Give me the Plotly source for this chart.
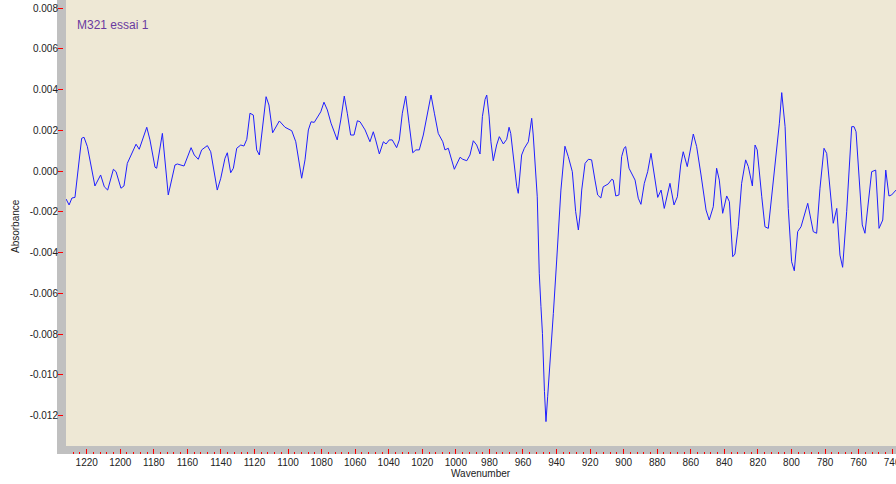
import plotly.graph_objects as go

# ---- data ----
wavenumber = [
    1232.3, 1230.5, 1228.8, 1227.0, 1223.0, 1221.6, 1219.6, 1215.1, 1211.7, 1209.5,
    1207.5, 1204.1, 1202.5, 1199.6, 1197.8, 1195.8, 1190.6, 1188.7, 1184.2, 1182.3,
    1179.3, 1178.3, 1174.9, 1171.4, 1167.4, 1166.0, 1162.0, 1157.8, 1155.9, 1153.5,
    1151.5, 1148.1, 1146.1, 1144.6, 1143.5, 1142.2, 1140.1, 1137.6, 1136.2, 1134.2,
    1132.6, 1130.6, 1128.2, 1126.3, 1124.6, 1122.7, 1120.7, 1118.7, 1117.1, 1113.1,
    1111.4, 1109.2, 1105.2, 1101.8, 1097.8, 1095.4, 1091.9, 1089.9, 1087.9, 1086.3,
    1084.4, 1080.5, 1078.6, 1076.6, 1074.4, 1072.4, 1070.7, 1068.6, 1066.5, 1064.7,
    1062.7, 1060.7, 1058.7, 1057.1, 1054.1, 1051.2, 1049.2, 1047.8, 1045.6, 1043.2,
    1041.6, 1039.7, 1037.9, 1035.3, 1033.7, 1031.9, 1029.9, 1027.9, 1025.7, 1023.8,
    1021.8, 1019.4, 1017.0, 1014.8, 1012.8, 1010.5, 1007.8, 1006.5, 1004.5, 1000.9,
    997.5, 995.9, 993.5, 991.6, 989.6, 987.6, 985.6, 984.2, 982.6, 981.6,
    980.2, 979.1, 977.7, 975.7, 974.1, 971.7, 969.7, 968.3, 967.3, 965.2,
    963.7, 962.8, 960.8, 959.2, 956.8, 954.8, 953.9, 951.5, 950.3, 949.3,
    948.4, 947.2, 946.3, 945.3, 943.3, 941.9, 939.9, 937.4, 935.0, 933.0,
    930.6, 928.6, 927.0, 926.0, 925.0, 923.0, 921.0, 919.1, 917.1, 915.5,
    913.6, 912.2, 909.2, 907.1, 906.2, 904.7, 902.8, 901.2, 899.8, 898.8,
    896.8, 894.9, 893.2, 891.3, 889.7, 887.7, 885.7, 883.7, 881.7, 879.7,
    877.7, 875.8, 872.4, 870.0, 868.0, 866.0, 864.5, 862.1, 858.5, 856.5,
    853.9, 850.9, 849.0, 846.6, 844.6, 843.0, 841.0, 838.6, 837.0, 835.0,
    833.7, 831.7, 829.7, 827.3, 825.7, 823.3, 821.7, 820.4, 817.7, 815.8,
    813.8, 809.8, 807.2, 805.8, 803.8, 801.9, 799.9, 798.3, 796.3, 794.3,
    790.3, 787.0, 785.0, 783.0, 780.6, 779.0, 777.0, 775.1, 773.0, 771.1,
    769.5, 767.1, 764.1, 762.7, 761.5, 757.8, 756.2, 752.2, 749.8, 747.8,
    745.6, 743.8, 741.9, 740.3, 737.7, 736.0,
]
absorbance = [
    -0.00137, -0.00166, -0.00132, -0.00129, 0.00161, 0.00166, 0.00120, -0.00073, -0.00019, -0.00077,
    -0.00093, 0.00009, -0.00003, -0.00084, -0.00073, 0.00038, 0.00132, 0.00107, 0.00215, 0.00153,
    0.00019, 0.00014, 0.00185, -0.00117, 0.00030, 0.00035, 0.00025, 0.00115, 0.00079, 0.00058,
    0.00104, 0.00125, 0.00095, 0.00022, -0.00044, -0.00093, -0.00035, 0.00063, 0.00090, -0.00008,
    0.00014, 0.00112, 0.00128, 0.00123, 0.00156, 0.00284, 0.00275, 0.00104, 0.00079, 0.00365,
    0.00324, 0.00188, 0.00246, 0.00215, 0.00198, 0.00144, -0.00035, 0.00055, 0.00202, 0.00242,
    0.00239, 0.00291, 0.00338, 0.00300, 0.00235, 0.00193, 0.00153, 0.00251, 0.00368, 0.00284,
    0.00177, 0.00177, 0.00247, 0.00242, 0.00202, 0.00144, 0.00193, 0.00153, 0.00084, 0.00144,
    0.00133, 0.00153, 0.00153, 0.00115, 0.00153, 0.00284, 0.00368, 0.00235, 0.00090, 0.00104,
    0.00104, 0.00177, 0.00284, 0.00373, 0.00284, 0.00185, 0.00144, 0.00104, 0.00112, 0.00009,
    0.00068, 0.00058, 0.00051, 0.00079, 0.00149, 0.00128, 0.00084, 0.00267, 0.00352, 0.00373,
    0.00270, 0.00144, 0.00051, 0.00128, 0.00169, 0.00133, 0.00156, 0.00215, 0.00185, 0.00030,
    -0.00077, -0.00109, 0.00079, 0.00112, 0.00144, 0.00259, 0.00177, -0.00126, -0.00501, -0.00665,
    -0.00796, -0.01082, -0.01229, -0.01107, -0.00894, -0.00698, -0.00436, -0.00093, 0.00122, 0.00071,
    -0.00003, -0.00199, -0.00289, -0.00215, -0.00093, 0.00038, 0.00058, 0.00055, -0.00044, -0.00117,
    -0.00132, -0.00077, -0.00063, -0.00040, -0.00044, -0.00122, -0.00117, 0.00071, 0.00112, 0.00120,
    0.00014, -0.00019, -0.00044, -0.00133, -0.00163, -0.00060, -0.00003, 0.00087, -0.00028, -0.00129,
    -0.00093, -0.00183, -0.00060, -0.00166, -0.00126, 0.00030, 0.00095, 0.00022, 0.00182, 0.00120,
    -0.00019, -0.00191, -0.00240, -0.00175, 0.00014, -0.00044, -0.00207, -0.00122, -0.00150, -0.00420,
    -0.00407, -0.00273, -0.00060, 0.00055, 0.00022, -0.00073, 0.00128, 0.00104, -0.00126, -0.00273,
    -0.00281, 0.00038, 0.00235, 0.00385, 0.00218, -0.00183, -0.00445, -0.00489, -0.00297, -0.00273,
    -0.00158, -0.00297, -0.00305, -0.00084, 0.00112, 0.00087, -0.00093, -0.00256, -0.00183, -0.00412,
    -0.00472, -0.00199, 0.00218, 0.00218, 0.00193, -0.00264, -0.00305, -0.00003, 0.00005, -0.00281,
    -0.00240, 0.00005, -0.00122, -0.00117, -0.00093, -0.00080,
]

x_tick_values = list(range(1220, 739, -20))
x_tick_labels = [str(v) for v in x_tick_values]
y_tick_values = [0.008, 0.006, 0.004, 0.002, 0.000, -0.002, -0.004, -0.006, -0.008, -0.010, -0.012]
y_tick_labels = ["0.008", "0.006", "0.004", "0.002", "0.000", "-0.002", "-0.004",
                 "-0.006", "-0.008", "-0.010", "-0.012"]

title_text = "M321 essai 1"
x_title = "Wavenumber"
y_title = "Absorbance"

# ---- layout geometry ----
W, H = 896, 484
ML, MR, MT, MB = 57, 0, 0, 30
PW, PH = W - ML - MR, H - MT - MB   # 839 x 454
BAR = 9   # grey frame width (left)
BARB = 8  # grey frame height (bottom)

FONT = "Liberation Sans, Arial, sans-serif"

fig = go.Figure()
fig.add_trace(go.Scatter(
    x=wavenumber, y=absorbance, mode="lines",
    line=dict(color="#1f1fff", width=1),
    hoverinfo="skip", showlegend=False,
))

fig.update_layout(
    width=W, height=H,
    margin=dict(l=ML, r=MR, t=MT, b=MB, pad=0),
    paper_bgcolor="white",
    plot_bgcolor="#EEE8D5",
    font=dict(family=FONT, size=10, color="#222222"),
    showlegend=False,
    xaxis=dict(
        domain=[BAR / PW, 1],
        range=[1232.34, 737.7],
        anchor="free", position=0,
        showgrid=False, zeroline=False, showline=False,
        tickmode="array", tickvals=x_tick_values, ticktext=x_tick_labels,
        ticks="inside", ticklen=5, tickwidth=1, tickcolor="#ff0000",
        minor=dict(tickmode="linear", tick0=0, dtick=4, ticks="inside",
                   ticklen=2, tickwidth=1, tickcolor="#ff0000"),
        tickfont=dict(family=FONT, size=10, color="#222222"),
        ticklabeloverflow="allow",
        ticklabelstandoff=1,
        automargin=False,
        fixedrange=True,
    ),
    yaxis=dict(
        domain=[BARB / PH, 1],
        range=[-0.013486, 0.008394],
        anchor="free", position=0,
        showgrid=False, zeroline=False, showline=False,
        tickmode="array", tickvals=y_tick_values, ticktext=y_tick_labels,
        ticks="inside", ticklen=5, tickwidth=1, tickcolor="#ff0000",
        tickfont=dict(family=FONT, size=10, color="#222222"),
        ticklabeloverflow="allow",
        ticklabelstandoff=-1,
        automargin=False,
        fixedrange=True,
    ),
    shapes=[
        dict(type="rect", xref="paper", yref="paper", x0=0, x1=BAR / PW, y0=0, y1=1,
             fillcolor="#C0C0C0", line=dict(width=0), layer="below"),
        dict(type="rect", xref="paper", yref="paper", x0=0, x1=1, y0=0, y1=BARB / PH,
             fillcolor="#C0C0C0", line=dict(width=0), layer="below"),
    ],
    annotations=[
        dict(text=title_text, xref="paper", yref="paper",
             x=(75 - ML) / PW, y=(H - MB - 25) / PH, xanchor="left", yanchor="middle",
             showarrow=False, font=dict(family=FONT, size=12, color="#6A3AA0")),
        dict(text=x_title, xref="paper", yref="paper",
             x=(480.5 - ML) / PW, y=(H - MB - 473) / PH, xanchor="center", yanchor="middle",
             showarrow=False, font=dict(family=FONT, size=10, color="#222222")),
        dict(text=y_title, xref="paper", yref="paper", textangle=-90,
             x=(15 - ML) / PW, y=(H - MB - 226) / PH, xanchor="center", yanchor="middle",
             showarrow=False, font=dict(family=FONT, size=10, color="#222222")),
    ],
)

fig.write_html(
    "out.html",
    config={"displayModeBar": False},
    post_script="document.body.style.margin='0';document.body.style.overflow='hidden';",
)
